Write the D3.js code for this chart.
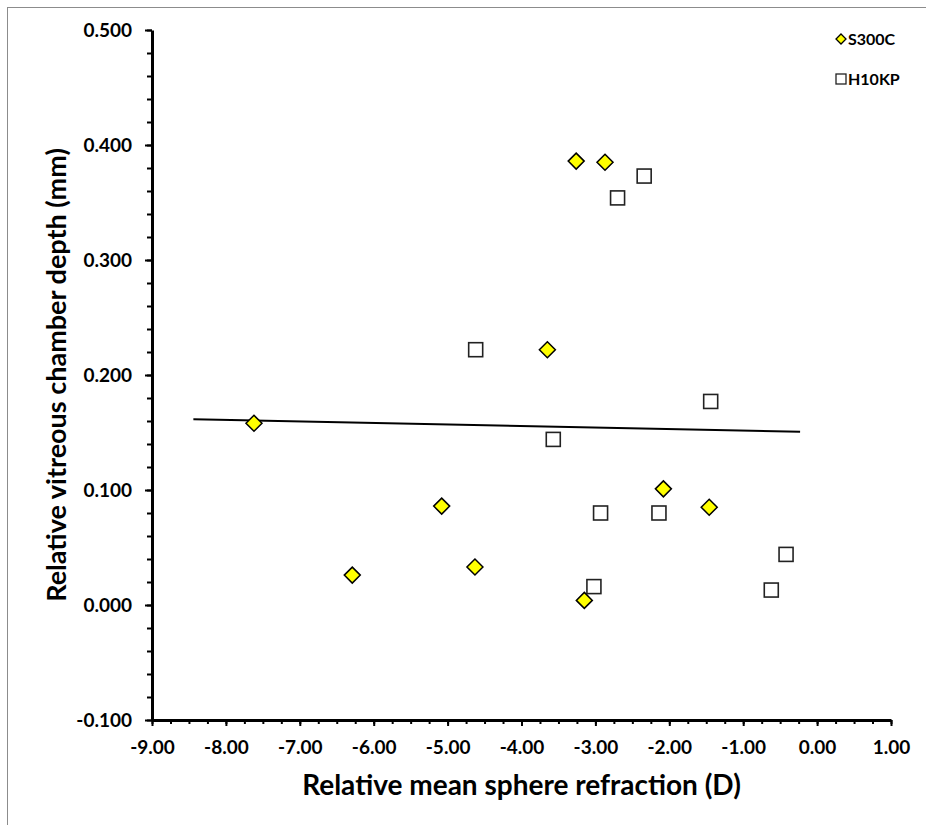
<!DOCTYPE html>
<html>
<head>
<meta charset="utf-8">
<script src="https://cdn.jsdelivr.net/npm/d3@7"></script>
<style>
  body { margin: 0; background: #fff; }
  svg text { font-family: Lato, "Open Sans", sans-serif; font-weight: bold; fill: #000; }
</style>
</head>
<body>
<svg id="chart"></svg>
<script>
// S300C series (diamonds)
const s300cX = [-7.62, -6.29, -5.08, -4.63, -3.65, -3.26, -2.87, -3.15, -2.08, -1.46];
const s300cY = [0.158, 0.026, 0.086, 0.033, 0.222, 0.386, 0.385, 0.004, 0.101, 0.085];

// H10KP series (squares)
const h10kpX = [-2.34, -2.70, -4.62, -1.44, -3.57, -2.93, -2.14, -3.02, -0.42, -0.62];
const h10kpY = [0.373, 0.354, 0.222, 0.177, 0.144, 0.080, 0.080, 0.016, 0.044, 0.013];

// trend line end points
const trendX = [-8.44, -0.23];
const trendY = [0.1615, 0.1507];

const xTicks = [-9, -8, -7, -6, -5, -4, -3, -2, -1, 0, 1];
const yTicks = [-0.1, 0, 0.1, 0.2, 0.3, 0.4, 0.5];
const seriesNames = ['S300C', 'H10KP'];

const W = 926, H = 825;
const svg = d3.select('#chart').attr('width', W).attr('height', H);

/* outer chart frame */
svg.append('rect')
    .attr('x', 7.5).attr('y', 7.5)
    .attr('width', 960).attr('height', 900)
    .attr('fill', 'none')
    .attr('stroke', '#8c8c8c')
    .attr('stroke-width', 1);

const x = d3.scaleLinear().domain([-9, 1]).range([152, 891]);
const y = d3.scaleLinear().domain([-0.1, 0.5]).range([720, 30]);

// plain hyphen for negatives, like the original
const fmt = p => d => d3.format('.' + p + 'f')(d).replace('\u2212', '-');

/* minor ticks */
const xMinor = d3.range(-9, 1.001, 0.25);
svg.append('g')
    .attr('transform', 'translate(0,' + y(-0.1) + ')')
    .call(d3.axisBottom(x).tickValues(xMinor).tickSize(4).tickFormat(''))
    .call(g => g.select('.domain').remove())
    .selectAll('line').attr('stroke-width', 2);

const yMinor = d3.range(-0.1, 0.5001, 0.02);
svg.append('g')
    .attr('transform', 'translate(' + x(-9) + ',0)')
    .call(d3.axisLeft(y).tickValues(yMinor).tickSize(5).tickFormat(''))
    .call(g => g.select('.domain').remove())
    .selectAll('line').attr('stroke-width', 2);

/* main axes */
const xAxis = svg.append('g')
    .attr('transform', 'translate(0,' + y(-0.1) + ')')
    .call(d3.axisBottom(x).tickValues(xTicks).tickSize(6).tickPadding(15)
        .tickFormat(fmt(2)).tickSizeOuter(0));
xAxis.select('.domain').attr('stroke-width', 3);
xAxis.selectAll('line').attr('stroke-width', 2);
xAxis.selectAll('text').attr('font-size', 19);

const yAxis = svg.append('g')
    .attr('transform', 'translate(' + x(-9) + ',0)')
    .call(d3.axisLeft(y).tickValues(yTicks).tickSize(7).tickPadding(13)
        .tickFormat(fmt(3)).tickSizeOuter(0));
yAxis.select('.domain').attr('stroke-width', 3);
yAxis.selectAll('line').attr('stroke-width', 2);
yAxis.selectAll('text').attr('font-size', 19);

svg.selectAll('.tick text').attr('font-family', 'Lato, sans-serif').attr('font-weight', 'bold');

/* axis titles */
svg.append('text')
    .attr('x', (x(-9) + x(1)) / 2)
    .attr('y', 795)
    .attr('text-anchor', 'middle')
    .attr('font-size', 28)
    .text('Relative mean sphere refraction (D)');

svg.append('text')
    .attr('transform', 'translate(66,' + (y(-0.1) + y(0.5)) / 2 + ') rotate(-90)')
    .attr('text-anchor', 'middle')
    .attr('font-size', 27)
    .text('Relative vitreous chamber depth (mm)');

/* trend line */
const line = d3.line()
    .x(d => x(d[0]))
    .y(d => y(d[1]));

svg.append('path')
    .datum(d3.zip(trendX, trendY))
    .attr('d', line)
    .attr('fill', 'none')
    .attr('stroke', '#000')
    .attr('stroke-width', 2);

/* markers */
const diamond = r => 'M0,' + (-r) + 'L' + r + ',0L0,' + r + 'L' + (-r) + ',0Z';

svg.selectAll('.sq')
    .data(d3.zip(h10kpX, h10kpY))
    .enter().append('rect')
    .attr('class', 'sq')
    .attr('x', d => x(d[0]) - 7)
    .attr('y', d => y(d[1]) - 7)
    .attr('width', 14)
    .attr('height', 14)
    .attr('fill', '#fff')
    .attr('stroke', '#222')
    .attr('stroke-width', 1.6);

svg.selectAll('.dia')
    .data(d3.zip(s300cX, s300cY))
    .enter().append('path')
    .attr('class', 'dia')
    .attr('transform', d => 'translate(' + x(d[0]) + ',' + y(d[1]) + ')')
    .attr('d', diamond(8))
    .attr('fill', '#ffff00')
    .attr('stroke', '#000')
    .attr('stroke-width', 1.5);

/* legend */
const legend = svg.append('g');
legend.append('path')
    .attr('transform', 'translate(841,39)')
    .attr('d', diamond(5))
    .attr('fill', '#ffff00')
    .attr('stroke', '#000')
    .attr('stroke-width', 1.3);
legend.append('rect')
    .attr('x', 836).attr('y', 74)
    .attr('width', 10).attr('height', 10)
    .attr('fill', '#fff')
    .attr('stroke', '#222')
    .attr('stroke-width', 1.3);
legend.selectAll('.label')
    .data(seriesNames)
    .enter().append('text')
    .attr('class', 'label')
    .attr('x', 848)
    .attr('y', (d, i) => 45 + i * 40)
    .attr('font-size', 16)
    .text(d => d);
</script>
</body>
</html>
